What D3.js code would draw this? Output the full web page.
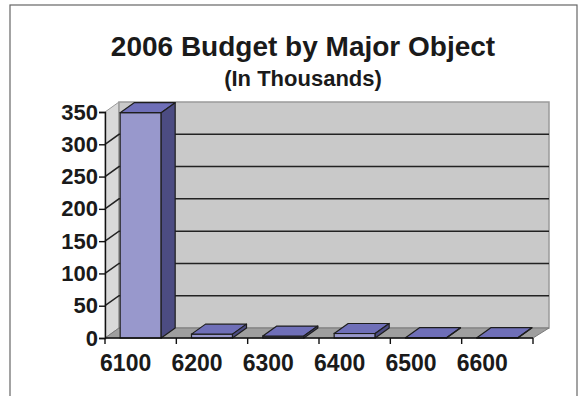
<!DOCTYPE html>
<html>
<head>
<meta charset="utf-8">
<script src="https://cdn.jsdelivr.net/npm/d3@7"></script>
<style>
  html, body { margin: 0; padding: 0; background: #fff; }
  svg { display: block; }
  text { font-family: "Liberation Sans", Arial, sans-serif; font-weight: bold; fill: #1a1a1a; }
</style>
</head>
<body>
<svg id="chart" width="584" height="396"></svg>
<script>
const categories = ["6100", "6200", "6300", "6400", "6500", "6600"];
const values = [349, 6, 3, 7, 0.5, 0.5];
const yTicks = [0, 50, 100, 150, 200, 250, 300, 350];
const titleText = "2006 Budget by Major Object";
const subtitleText = "(In Thousands)";

(function () {
const svg = d3.select("#chart");
const pLeft = 105, pRight = 533, pBottom = 338, pTop = 112;
const dx = 14, dy = 10;

// frame
svg.append("rect").attr("x", 10).attr("y", 5).attr("width", 567).attr("height", 420)
  .attr("fill", "#fff").attr("stroke", "#666").attr("stroke-width", 1.2);

const y = d3.scaleLinear().domain([0, 350]).range([pBottom, pTop]);
const x = d3.scaleBand().domain(categories).range([pLeft, pRight])
  .paddingInner(0.425).paddingOuter(0.2125);
const step = x.step();

const y0 = y(0), yMax = y(350);

// side wall
svg.append("polygon")
  .attr("points", [[pLeft, y0], [pLeft, yMax], [pLeft + dx, yMax - dy], [pLeft + dx, y0 - dy]].join(" "))
  .attr("fill", "#d9d9d9").attr("stroke", "#9a9a9a").attr("stroke-width", 1);
// back wall
svg.append("rect")
  .attr("x", pLeft + dx).attr("y", yMax - dy)
  .attr("width", pRight + dx + 2 - (pLeft + dx)).attr("height", y0 - yMax)
  .attr("fill", "#c9c9c9").attr("stroke", "#9a9a9a").attr("stroke-width", 1.5);
// floor
svg.append("polygon")
  .attr("points", [[pLeft, y0], [pRight, y0], [pRight + dx + 2, y0 - dy], [pLeft + dx, y0 - dy]].join(" "))
  .attr("fill", "#9f9f9f").attr("stroke", "#7a7a7a").attr("stroke-width", 1);

// gridlines
const gridVals = yTicks.filter(v => v > 0 && v < 350);
svg.append("g").selectAll("path").data(gridVals).join("path")
  .attr("d", v => `M${pLeft},${y(v)}L${pLeft + dx},${y(v) - dy}L${pRight + dx + 2},${y(v) - dy}`)
  .attr("fill", "none").attr("stroke", "#222").attr("stroke-width", 1.5);

// bars
const bw = x.bandwidth();
const bars = svg.append("g").selectAll("g").data(categories).join("g");
bars.append("rect")
  .attr("x", d => x(d)).attr("y", (d, i) => y(values[i]))
  .attr("width", bw).attr("height", (d, i) => y0 - y(values[i]))
  .attr("fill", "#9898cc").attr("stroke", "#1e1e1e").attr("stroke-width", 1.2);
bars.append("polygon")
  .attr("points", (d, i) => {
    const xv = x(d), yv = y(values[i]);
    return [[xv, yv], [xv + dx, yv - dy], [xv + bw + dx, yv - dy], [xv + bw, yv]].join(" ");
  })
  .attr("fill", "#6f6fb8").attr("stroke", "#1e1e1e").attr("stroke-width", 1.2).attr("stroke-linejoin", "round");
bars.append("polygon")
  .attr("points", (d, i) => {
    const xv = x(d) + bw, yv = y(values[i]);
    return [[xv, yv], [xv + dx, yv - dy], [xv + dx, y0 - dy], [xv, y0]].join(" ");
  })
  .attr("fill", "#4c4c82").attr("stroke", "#1e1e1e").attr("stroke-width", 1.2).attr("stroke-linejoin", "round");

// y axis
const yAxis = d3.axisLeft(y).tickValues(yTicks).tickSize(6).tickPadding(1).tickFormat(d3.format("d"));
const gy = svg.append("g").attr("transform", `translate(${pLeft},0)`).call(yAxis);
gy.select(".domain").attr("stroke", "#111").attr("stroke-width", 1.4);
gy.selectAll(".tick line").attr("stroke", "#111").attr("stroke-width", 1.4);
gy.selectAll(".tick text").style("font-size", "22px").style("font-family", "Liberation Sans, Arial, sans-serif")
  .style("font-weight", "bold").attr("fill", "#1a1a1a");

// x axis: ticks at category boundaries
const bounds = categories.map(c => x(c) - x.paddingInner() * step / 2).concat([pRight]);
svg.append("line").attr("x1", pLeft).attr("x2", pRight).attr("y1", y0).attr("y2", y0)
  .attr("stroke", "#111").attr("stroke-width", 1.4);
svg.append("g").selectAll("line").data(bounds).join("line")
  .attr("x1", d => d).attr("x2", d => d).attr("y1", y0).attr("y2", y0 + 6)
  .attr("stroke", "#111").attr("stroke-width", 1.4);
svg.append("g").selectAll("text").data(categories).join("text")
  .attr("x", d => x(d) + bw / 2 - 15).attr("y", 371)
  .attr("text-anchor", "middle").style("font-size", "23px").text(d => d);

// titles
svg.append("text").attr("x", 303).attr("y", 56).attr("text-anchor", "middle")
  .style("font-size", "28px").text(titleText);
svg.append("text").attr("x", 303).attr("y", 86).attr("text-anchor", "middle")
  .style("font-size", "22px").text(subtitleText);
})();
</script>
</body>
</html>
